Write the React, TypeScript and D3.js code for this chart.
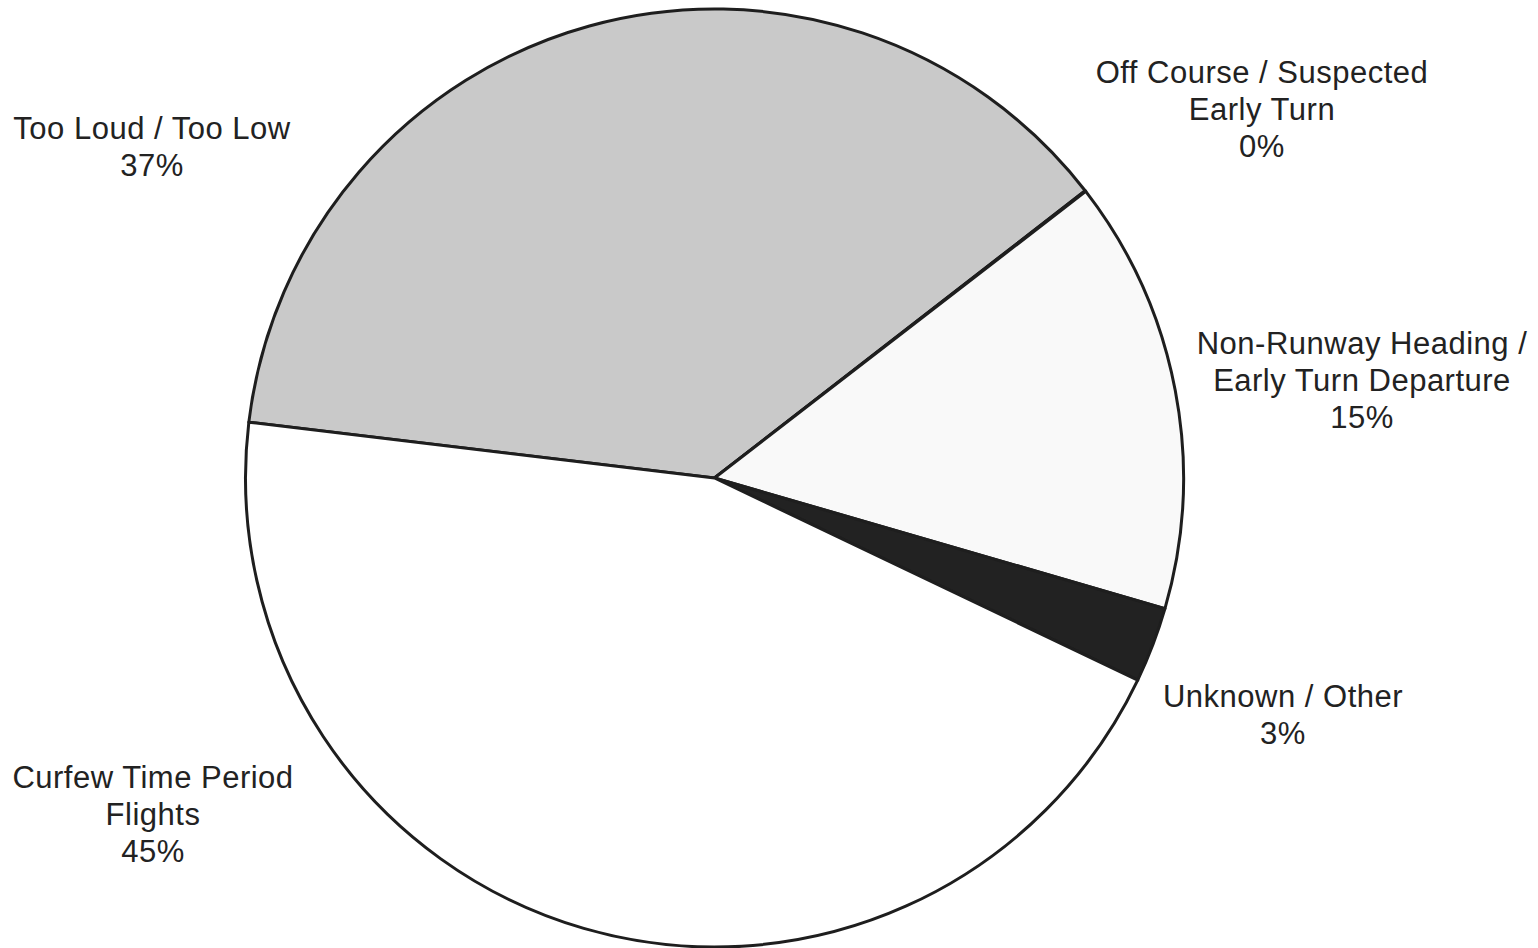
import React from "react";
import * as d3 from "d3";

const categories = [
  "Too Loud / Too Low",
  "Off Course / Suspected Early Turn",
  "Non-Runway Heading / Early Turn Departure",
  "Unknown / Other",
  "Curfew Time Period Flights",
];
const values = [37.6, 0.03, 14.95, 2.6, 44.8];
const percentLabels = ["37%", "0%", "15%", "3%", "45%"];
const labelLines = [
  ["Too Loud / Too Low"],
  ["Off Course / Suspected", "Early Turn"],
  ["Non-Runway Heading /", "Early Turn Departure"],
  ["Unknown / Other"],
  ["Curfew Time Period", "Flights"],
];

const fills = ["#c9c9c9", "#ffffff", "#f9f9f9", "#222222", "#ffffff"];
const labelPos: [number, number][] = [
  [152, 139],
  [1262, 83],
  [1362, 354],
  [1283, 707],
  [153, 788],
];

const W = 1538;
const H = 948;
const cx = 714.5;
const cy = 478;
const R = 469;
const startDeg = -83.16;

export default function App() {
  const pie = d3
    .pie<number>()
    .sort(null)
    .value((d) => d)
    .startAngle((startDeg * Math.PI) / 180)
    .endAngle(((startDeg + 360) * Math.PI) / 180);
  const arcs = pie(values);
  const arc = d3.arc<d3.PieArcDatum<number>>().innerRadius(0).outerRadius(R);
  const lineH = 37;

  return (
    <svg
      width={W}
      height={H}
      style={{ position: "absolute", left: 0, top: 0, background: "#fff" }}
      fontFamily="'Liberation Sans', Arial, Helvetica, sans-serif"
    >
      <rect width={W} height={H} fill="#fff" />
      <g transform={`translate(${cx},${cy})`}>
        {arcs.map((a, i) => (
          <path
            key={categories[i]}
            d={arc(a) || ""}
            fill={fills[i]}
            stroke="#1e1e1e"
            strokeWidth={3}
            strokeLinejoin="round"
          />
        ))}
      </g>
      {categories.map((c, i) => {
        const lines = [...labelLines[i], percentLabels[i]];
        const [x, y] = labelPos[i];
        return (
          <text
            key={c}
            x={x}
            y={y}
            textAnchor="middle"
            fontSize={31}
            letterSpacing={0.5}
            fill="#222"
          >
            {lines.map((l, j) => (
              <tspan key={j} x={x} y={y + j * lineH}>
                {l}
              </tspan>
            ))}
          </text>
        );
      })}
    </svg>
  );
}
